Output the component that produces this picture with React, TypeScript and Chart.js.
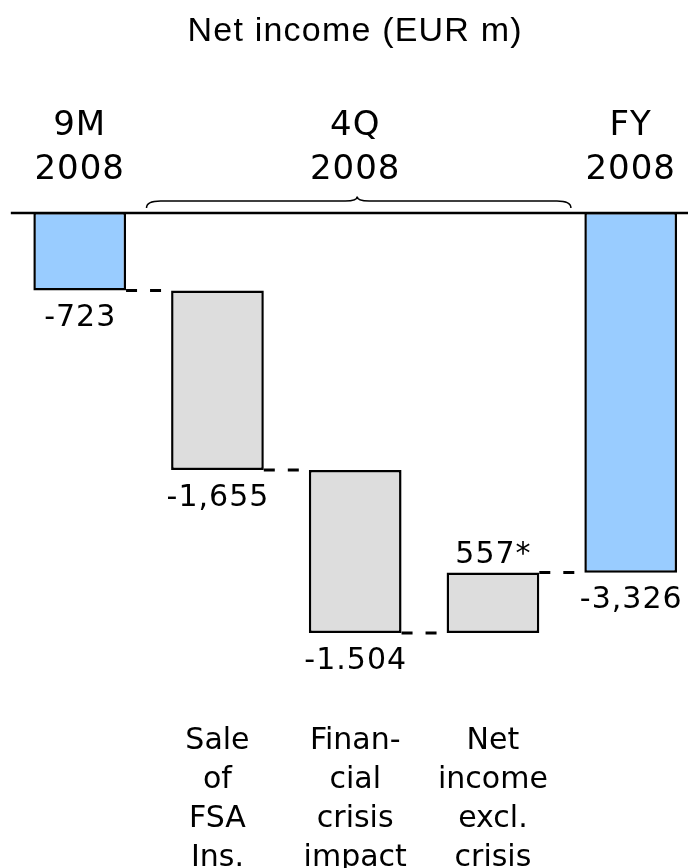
import React, { useEffect, useRef } from 'react';
import { Chart, registerables } from 'chart.js';

Chart.register(...registerables);

// ---- Data ----
const titleText = 'Net income (EUR m)';
const categories = ['9M 2008', 'Sale of FSA Ins.', 'Financial crisis impact', 'Net income excl. crisis', 'FY 2008'];
const changes = [-723, -1655, -1504, 557, -3326];
const isTotal = [true, false, false, false, true];
const valueLabels = ['-723', '-1,655', '-1.504', '557*', '-3,326'];
const headerLabels: (string | string[])[] = [['9M', '2008'], '', ['4Q', '2008'], '', ['FY', '2008']];
const footerLabels: (string | string[])[] = ['', ['Sale', 'of', 'FSA', 'Ins.'], ['Finan-', 'cial', 'crisis', 'impact'], ['Net', 'income', 'excl.', 'crisis'], ''];
const barColors = ['#99CCFF', '#DDDDDD', '#DDDDDD', '#DDDDDD', '#99CCFF'];

// floating ranges built from the changes
const ranges: [number, number][] = [];
const runningEnd: number[] = [];
{
  let run = 0;
  changes.forEach((c, i) => {
    if (isTotal[i]) {
      ranges.push([0, c]);
      run = c;
    } else {
      ranges.push([run, run + c]);
      run += c;
    }
    runningEnd.push(run);
  });
}

function wrapSpacing(obj: any, method: string, spacing: string) {
  if (!obj || obj['__ls_' + method]) return;
  const orig = obj[method];
  obj[method] = function (...args: any[]) {
    const c = this.ctx;
    const prev = c.letterSpacing;
    c.letterSpacing = spacing;
    const r = orig.apply(this, args);
    c.letterSpacing = prev;
    return r;
  };
  obj['__ls_' + method] = true;
}

const TITLE_SIZE = 34;
const TITLE_PAD = 10.8;

const overlayPlugin = {
  id: 'overlay',
  beforeDraw(chart: any) {
    wrapSpacing(chart.scales.x, 'drawLabels', '1px');
    wrapSpacing(chart.scales.x2, 'drawLabels', '0px');
    wrapSpacing(chart.titleBlock, 'draw', '1.2px');
  },
  afterDatasetsDraw(chart: any) {
    const { ctx } = chart;
    const xs = chart.scales.x;
    const ys = chart.scales.y;
    const meta = chart.getDatasetMeta(0);
    const sp = xs.getPixelForValue(1) - xs.getPixelForValue(0);
    const y0 = ys.getPixelForValue(0);
    ctx.save();

    // zero line
    ctx.strokeStyle = '#000';
    ctx.lineWidth = 2.5;
    ctx.setLineDash([]);
    ctx.beginPath();
    ctx.moveTo(xs.getPixelForValue(0) - sp * 0.5, y0 + 1);
    ctx.lineTo(chart.width, y0 + 1);
    ctx.stroke();

    // connectors
    ctx.lineWidth = 3;
    ctx.setLineDash([11, 13]);
    for (let i = 0; i < meta.data.length - 1; i++) {
      const a = meta.data[i];
      const b = meta.data[i + 1];
      const yy = ys.getPixelForValue(runningEnd[i]);
      ctx.beginPath();
      ctx.moveTo(a.x + a.width / 2, yy);
      ctx.lineTo(b.x - b.width / 2, yy);
      ctx.stroke();
    }

    // brace over 4Q
    ctx.setLineDash([]);
    ctx.lineWidth = 1.5;
    const xl = xs.getPixelForValue(1) - 0.515 * sp;
    const xr = xs.getPixelForValue(3) + 0.566 * sp;
    const xm = xs.getPixelForValue(2) + 2;
    const yb = y0 - 4;
    const yf = y0 - 11;
    const yt = y0 - 15.5;
    ctx.beginPath();
    ctx.moveTo(xl, yb);
    ctx.quadraticCurveTo(xl, yf, xl + 14, yf);
    ctx.lineTo(xm - 12, yf);
    ctx.quadraticCurveTo(xm, yf, xm, yt);
    ctx.quadraticCurveTo(xm, yf, xm + 12, yf);
    ctx.lineTo(xr - 14, yf);
    ctx.quadraticCurveTo(xr, yf, xr, yb);
    ctx.stroke();

    // value labels
    ctx.fillStyle = '#000';
    ctx.font = '30px "DejaVu Sans"';
    (ctx as any).letterSpacing = '1px';
    ctx.textAlign = 'center';
    meta.data.forEach((el: any, i: number) => {
      const r = ranges[i];
      if (changes[i] < 0) {
        ctx.textBaseline = 'top';
        ctx.fillText(valueLabels[i], el.x + 0.5, ys.getPixelForValue(Math.min(r[0], r[1])) + 13);
      } else {
        ctx.textBaseline = 'alphabetic';
        ctx.fillText(valueLabels[i], el.x + 0.5, ys.getPixelForValue(Math.max(r[0], r[1])) - 10);
      }
    });
    ctx.restore();
  },
};

export default function App() {
  const ref = useRef<HTMLCanvasElement>(null);
  useEffect(() => {
    document.body.style.margin = '0';
    if (!ref.current) return;
    Chart.defaults.font.family = '"DejaVu Sans"';
    const chart = new Chart(ref.current, {
      type: 'bar',
      data: {
        labels: categories,
        datasets: [
          {
            data: ranges as any,
            backgroundColor: barColors,
            borderColor: '#000',
            borderWidth: 2.5,
            borderSkipped: false,
            barPercentage: 0.673,
            categoryPercentage: 1,
            clip: false as any,
            xAxisID: 'x',
            yAxisID: 'y',
          },
        ],
      },
      options: {
        responsive: false,
        animation: false,
        events: [],
        layout: { padding: { left: 79.7, right: 57.3, top: 0, bottom: 0 } },
        plugins: {
          legend: { display: false },
          tooltip: { enabled: false },
          title: {
            display: true,
            text: titleText,
            color: '#000',
            font: { family: '"Liberation Sans", Arial', size: TITLE_SIZE, weight: 'normal', lineHeight: 1.2 },
            padding: { top: TITLE_PAD, bottom: 0 },
          },
        },
        scales: {
          x: {
            type: 'category',
            position: 'top',
            offset: false,
            grid: { display: false, drawTicks: false },
            border: { display: false },
            ticks: {
              autoSkip: false,
              maxRotation: 0,
              minRotation: 0,
              padding: 20.4,
              color: '#000',
              font: { family: '"DejaVu Sans"', size: 34, lineHeight: 1.274 },
              callback: (_v: any, i: number) => headerLabels[i],
            },
            afterFit: (s: any) => {
              s.height = 212 - TITLE_PAD - TITLE_SIZE * 1.2;
              s.paddingLeft = 0;
              s.paddingRight = 0;
            },
          },
          x2: {
            type: 'category',
            position: 'bottom',
            offset: false,
            grid: { display: false, drawTicks: false },
            border: { display: false },
            ticks: {
              autoSkip: false,
              maxRotation: 0,
              minRotation: 0,
              padding: 22,
              color: '#000',
              font: { family: '"DejaVu Sans"', size: 30, lineHeight: 1.3 },
              callback: (_v: any, i: number) => footerLabels[i],
            },
            afterFit: (s: any) => {
              s.height = 168;
              s.paddingLeft = 0;
              s.paddingRight = 0;
            },
          },
          y: {
            display: false,
            min: -4500,
            max: 0,
          },
        },
      },
      plugins: [overlayPlugin],
    });
    return () => chart.destroy();
  }, []);
  return (
    <div style={{ width: 688, height: 868 }}>
      <canvas ref={ref} width={688} height={868} style={{ display: 'block' }} />
    </div>
  );
}
